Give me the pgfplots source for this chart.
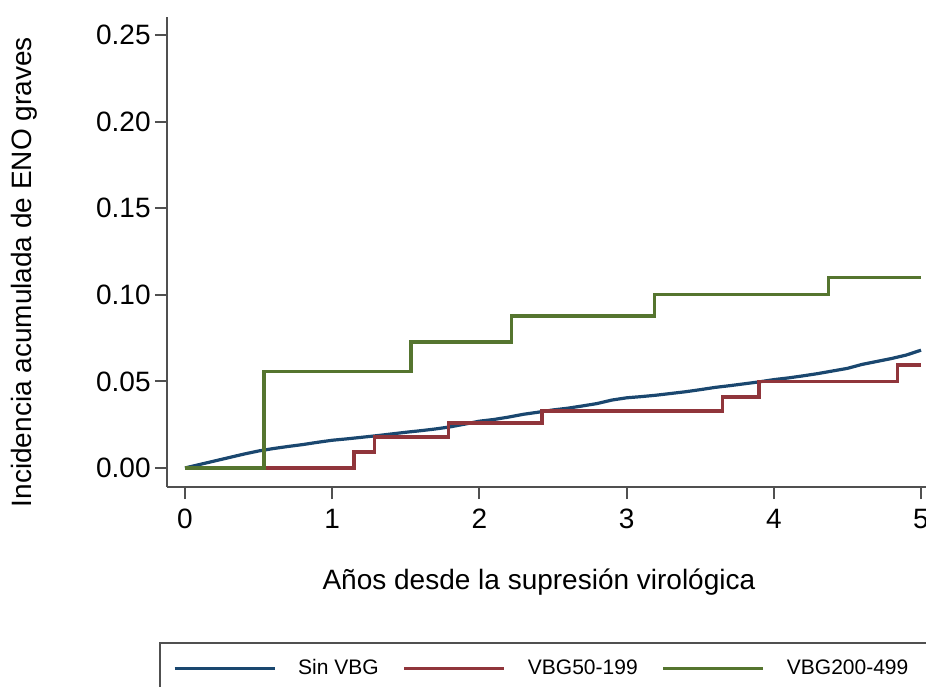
\documentclass[border=0pt]{standalone}
\usepackage{fontspec}
\setmainfont{Liberation Sans}
\usepackage{pgfplots}
\usepackage{pgfplotstable}
\pgfplotsset{compat=1.18}
\definecolor{sinvbg}{RGB}{26,71,111}
\definecolor{vbgmid}{RGB}{144,53,59}
\definecolor{vbghigh}{RGB}{85,117,47}
\definecolor{axgray}{RGB}{80,80,80}

% Sin VBG: fine Kaplan-Meier staircase
\pgfplotstableread{
x y
0.00 0.0000
0.10 0.0020
0.20 0.0040
0.30 0.0060
0.40 0.0080
0.50 0.0098
0.60 0.0112
0.70 0.0124
0.80 0.0135
0.90 0.0148
1.00 0.0160
1.10 0.0168
1.20 0.0177
1.30 0.0186
1.40 0.0196
1.50 0.0206
1.60 0.0215
1.70 0.0225
1.80 0.0237
1.90 0.0253
2.00 0.0270
2.10 0.0280
2.20 0.0294
2.30 0.0310
2.40 0.0322
2.50 0.0335
2.60 0.0345
2.70 0.0358
2.80 0.0372
2.90 0.0392
3.00 0.0405
3.10 0.0412
3.20 0.0420
3.30 0.0430
3.40 0.0440
3.50 0.0452
3.60 0.0465
3.70 0.0475
3.80 0.0486
3.90 0.0497
4.00 0.0510
4.10 0.0520
4.20 0.0532
4.30 0.0545
4.40 0.0560
4.50 0.0575
4.60 0.0598
4.70 0.0615
4.80 0.0632
4.90 0.0652
5.00 0.0680
}\tabsin

\pgfplotstableread{
x y
0.000 0.0000
1.148 0.0092
1.290 0.0179
1.790 0.0260
2.425 0.0329
3.650 0.0410
3.900 0.0497
4.840 0.0595
5.000 0.0595
}\tabmid

\pgfplotstableread{
x y
0.000 0.0000
0.537 0.0556
1.535 0.0727
2.220 0.0877
3.190 0.1000
4.370 0.1100
5.000 0.1100
}\tabhigh

\begin{document}
\begin{tikzpicture}
\useasboundingbox (-83.5pt,-99.5pt) rectangle (379.5pt,243.5pt);
\clip (-83.5pt,-99.5pt) rectangle (379.5pt,243.5pt);
\begin{axis}[
    at={(0pt,0pt)}, anchor=south west,
    scale only axis, width=379.5pt, height=235pt,
    xmin=-0.122, xmax=5.034, ymin=-0.011, ymax=0.2604,
    axis lines=left, axis line style={-, axgray, line width=1pt},
    xtick={0,1,2,3,4,5}, ytick={0,0.05,0.1,0.15,0.2,0.25},
    scaled y ticks=false,
    tick align=outside, major tick length=6pt,
    tick style={axgray, line width=1pt},
    /pgf/number format/assume math mode=true,
    yticklabel style={/pgf/number format/fixed, /pgf/number format/fixed zerofill,
        /pgf/number format/precision=2, inner xsep=2pt},
    xticklabel style={inner ysep=5pt},
    tick label style={font=\fontsize{14}{16}\selectfont},
    label style={font=\fontsize{14}{16}\selectfont},
    xlabel={Años desde la supresión virológica},
    ylabel={Incidencia acumulada de ENO graves},
    xlabel style={at={(axis description cs:0.49,-0.202)}, anchor=center},
    ylabel style={at={(axis description cs:-0.188,0.457)}, anchor=center},
    legend columns=3,
    legend image code/.code={\draw[#1] (0pt,0pt) -- (50pt,0pt);},
    legend style={at={(axis description cs:-0.0105,-0.33)}, anchor=north west,
        draw=axgray, line width=1pt, inner xsep=6.5pt, inner ysep=8pt,
        font=\fontsize{10.5}{12.5}\selectfont, nodes={inner sep=0pt},
        /tikz/every odd column/.append style={column sep=11pt},
        /tikz/every even column/.append style={column sep=12pt}},
    every axis plot/.append style={line width=1.6pt},
]
\addplot[sinvbg] table {\tabsin};
\addlegendentry{Sin VBG}
\addplot[vbgmid, const plot] table {\tabmid};
\addlegendentry{VBG50-199}
\addplot[vbghigh, const plot] table {\tabhigh};
\addlegendentry{\makebox[80pt][l]{VBG200-499}}
\end{axis}
\end{tikzpicture}
\end{document}
